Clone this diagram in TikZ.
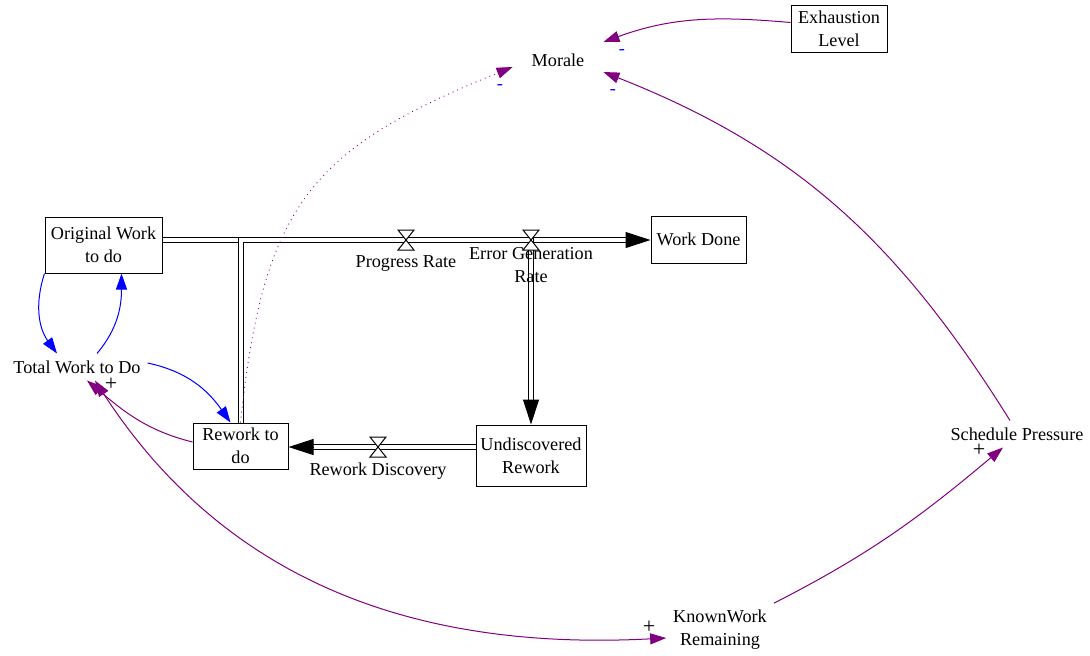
\documentclass[tikz,border=0pt]{standalone}
\usepackage{fontspec}
\setmainfont{Liberation Serif}
\usepackage{tikz}
\usetikzlibrary{arrows.meta,positioning}
\definecolor{lnkpurple}{RGB}{128,0,128}

\begin{document}
\begin{tikzpicture}[
  x=0.5pt, y=-0.5pt,
  font=\fontsize{9.1}{11.5}\selectfont,
  stock/.style={draw, line width=0.5pt, align=center, inner sep=2pt,
                minimum width=47.5pt, minimum height=23.5pt},
  aux/.style={align=center},
  pipe/.style={double, double distance=2pt, line width=0.5pt, shorten >=10pt},
  pipetip/.style={-{Triangle[length=12.5pt,width=8pt]}, line width=0.5pt},
  valve/.style={draw, fill=white, line width=0.5pt},
  lnk/.style={-{Triangle[length=8pt,width=5.5pt]}, line width=0.5pt, lnkpurple},
  blk/.style={-{Triangle[length=8pt,width=5.5pt]}, line width=0.5pt, blue},
  plussign/.style={inner sep=0pt, font=\fontsize{11}{13}\selectfont},
  minussign/.style={inner sep=0pt, text=blue}
]
\useasboundingbox (0,0) rectangle (1090,655);

% stocks
\node[stock, minimum width=58.5pt, minimum height=28pt] (ow) at (103.5,245) {Original Work\\to do};
\node[stock] (wd) at (698.5,239.5) {Work Done};
\node[stock, minimum height=23pt] (rw) at (240.5,446) {Rework to\\do};
\node[stock, minimum width=55pt, minimum height=30.5pt] (ur) at (531,455.5) {Undiscovered\\Rework};
\node[stock, minimum width=48pt] (el) at (839,28.5) {Exhaustion\\Level};

% auxiliaries
\node[aux, minimum width=45pt, minimum height=15pt] (morale) at (558,60) {Morale};
\node[aux] (twd) at (77,367) {Total Work to Do};
\node[aux] (sp) at (1017,434) {Schedule Pressure};
\node[aux] (kwr) at (720,630) {KnownWork\\Remaining};

% flows
\coordinate (pr) at (406,240);
\coordinate (egr) at (531,240);
\coordinate (rd) at (378,447);

\draw[pipe] (pr -| ow.east) -- (pr -| wd.west);
\draw[pipetip] (pr -| wd.west) ++(-25,0) -- (pr -| wd.west);
\draw[pipe] (rw.north) |- (egr) -- (ur.north);
\draw[pipetip] (ur.north) ++(0,-25) -- (ur.north);
\draw[pipe] (rd -| ur.west) -- (rd -| rw.east);
\draw[pipetip] (rd -| rw.east) ++(25,0) -- (rd -| rw.east);

\foreach \v in {pr,egr,rd}
  \draw[valve] (\v) ++(-8,-10) -- ++(16,0) -- ++(-16,20) -- ++(16,0) -- cycle;

\node[aux, below=4.5pt of pr] (prl) {Progress Rate};
\node[aux, below=0pt of egr] (egrl) {Error Generation\\Rate};
\node[aux, below=4.5pt of rd] (rdl) {Rework Discovery};

% causal links
\draw[blk] (ow.south west) to[out=252,in=126] ([xshift=-10pt]twd.north);
\draw[blk] ([xshift=10pt]twd.north) to[out=50,in=270] ([xshift=9pt]ow.south);
\draw[blk] ([yshift=2pt]twd.east) to[out=-12,in=125] ([xshift=-5pt]rw.north);
\draw[lnk] ([yshift=2pt]rw.west) to[out=166,in=-40] ([xshift=5pt]twd.south);
\draw[lnk, {Triangle[length=8pt,width=5.5pt]}-{Triangle[length=8pt,width=5.5pt]}]
  ([xshift=9pt]twd.south) to[out=-57,in=183] ([yshift=-4pt]kwr.west);
\draw[lnk] (kwr.north east) to[out=27,in=220] ([xshift=-7pt]sp.south);
\draw[lnk] ([xshift=-3.5pt]sp.north) to[out=122,in=-21.5] ([yshift=-6pt]morale.east);
\draw[lnk] ([yshift=3pt]el.west) to[out=175,in=20] ([yshift=9pt]morale.east);
\draw[lnk, dotted, line width=0.4pt] (rw.north) to[out=84,in=202,looseness=1.25] ([yshift=-3.5pt]morale.west);

% polarities
\node[plussign] (tp1) at (111,384) {+};
\node[plussign] (tp2) at (649,627) {+};
\node[plussign] (tp3) at (979,450) {+};
\node[minussign] (tm1) at (500,87) {-};
\node[minussign] (tm2) at (622,52) {-};
\node[minussign] (tm3) at (613,92) {-};
\end{tikzpicture}
\end{document}
